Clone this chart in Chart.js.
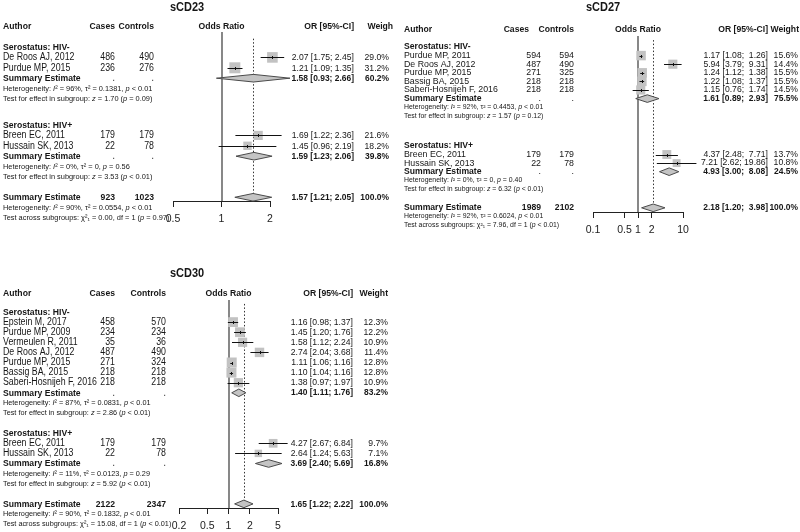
<!DOCTYPE html>
<html>
<head>
<meta charset="utf-8">
<script src="https://cdn.jsdelivr.net/npm/chart.js@4.4.1/dist/chart.umd.min.js"></script>
<style>
  html, body { margin: 0; padding: 0; background: #fff; }
  #wrap { position: relative; width: 800px; height: 532px; overflow: hidden; }
  canvas { position: absolute; }
</style>
</head>
<body>
<div id="wrap">
  <canvas id="cd23" width="393" height="266" style="left:0;top:0"></canvas>
  <canvas id="cd27" width="400" height="266" style="left:400px;top:0"></canvas>
  <canvas id="cd30" width="400" height="266" style="left:0;top:266px"></canvas>
</div>
<script>
// shared labels
const groupNames = ['Serostatus: HIV-', 'Serostatus: HIV+'];

// sCD23
const cd23Authors = ['De Roos AJ, 2012', 'Purdue MP, 2015', 'Breen EC, 2011', 'Hussain SK, 2013'];
const cd23GroupSizes = [2, 2];
const cd23Cases = [486, 236, 179, 22];
const cd23Controls = [490, 276, 179, 78];
const cd23OR = [2.07, 1.21, 1.69, 1.45];
const cd23Lower = [1.75, 1.09, 1.22, 0.96];
const cd23Upper = [2.45, 1.35, 2.36, 2.19];
const cd23Weight = [29.0, 31.2, 21.6, 18.2];
const cd23SubOR = [1.58, 1.59];
const cd23SubLower = [0.93, 1.23];
const cd23SubUpper = [2.66, 2.06];
const cd23SubWeight = [60.2, 39.8];
const cd23SubHet = ['Heterogeneity: _I_² = 96%, τ² = 0.1381, _p_ < 0.01', 'Heterogeneity: _I_² = 0%, τ² = 0, _p_ = 0.56'];
const cd23SubTest = ['Test for effect in subgroup: _z_ = 1.70 (_p_ = 0.09)', 'Test for effect in subgroup: _z_ = 3.53 (_p_ < 0.01)'];
const cd23Total = [923, 1023];
const cd23Overall = [1.57, 1.21, 2.05];
const cd23Notes = ['Heterogeneity: _I_² = 90%, τ² = 0.0554, _p_ < 0.01', 'Test across subgroups: χ²₁ = 0.00, df = 1 (_p_ = 0.97)'];
const cd23Ticks = [0.5, 1, 2];

// sCD27
const cd27Authors = ['Purdue MP, 2011', 'De Roos AJ, 2012', 'Purdue MP, 2015', 'Bassig BA, 2015', 'Saberi-Hosnijeh F, 2016', 'Breen EC, 2011', 'Hussain SK, 2013'];
const cd27GroupSizes = [5, 2];
const cd27Cases = [594, 487, 271, 218, 218, 179, 22];
const cd27Controls = [594, 490, 325, 218, 218, 179, 78];
const cd27OR = [1.17, 5.94, 1.24, 1.22, 1.15, 4.37, 7.21];
const cd27Lower = [1.08, 3.79, 1.12, 1.08, 0.76, 2.48, 2.62];
const cd27Upper = [1.26, 9.31, 1.38, 1.37, 1.74, 7.71, 19.86];
const cd27Weight = [15.6, 14.4, 15.5, 15.5, 14.5, 13.7, 10.8];
const cd27SubOR = [1.61, 4.93];
const cd27SubLower = [0.89, 3.00];
const cd27SubUpper = [2.93, 8.08];
const cd27SubWeight = [75.5, 24.5];
const cd27SubHet = ['Heterogeneity: _I_² = 92%, τ² = 0.4453, _p_ < 0.01', 'Heterogeneity: _I_² = 0%, τ² = 0, _p_ = 0.40'];
const cd27SubTest = ['Test for effect in subgroup: _z_ = 1.57 (_p_ = 0.12)', 'Test for effect in subgroup: _z_ = 6.32 (_p_ < 0.01)'];
const cd27Total = [1989, 2102];
const cd27Overall = [2.18, 1.20, 3.98];
const cd27Notes = ['Heterogeneity: _I_² = 92%, τ² = 0.6024, _p_ < 0.01', 'Test across subgroups: χ²₁ = 7.96, df = 1 (_p_ < 0.01)'];
const cd27Ticks = [0.1, 0.5, 1, 2, 10];

// sCD30
const cd30Authors = ['Epstein M, 2017', 'Purdue MP, 2009', 'Vermeulen R, 2011', 'De Roos AJ, 2012', 'Purdue MP, 2015', 'Bassig BA, 2015', 'Saberi-Hosnijeh F, 2016', 'Breen EC, 2011', 'Hussain SK, 2013'];
const cd30GroupSizes = [7, 2];
const cd30Cases = [458, 234, 35, 487, 271, 218, 218, 179, 22];
const cd30Controls = [570, 234, 36, 490, 324, 218, 218, 179, 78];
const cd30OR = [1.16, 1.45, 1.58, 2.74, 1.11, 1.10, 1.38, 4.27, 2.64];
const cd30Lower = [0.98, 1.20, 1.12, 2.04, 1.06, 1.04, 0.97, 2.67, 1.24];
const cd30Upper = [1.37, 1.76, 2.24, 3.68, 1.16, 1.16, 1.97, 6.84, 5.63];
const cd30Weight = [12.3, 12.2, 10.9, 11.4, 12.8, 12.8, 10.9, 9.7, 7.1];
const cd30SubOR = [1.40, 3.69];
const cd30SubLower = [1.11, 2.40];
const cd30SubUpper = [1.76, 5.69];
const cd30SubWeight = [83.2, 16.8];
const cd30SubHet = ['Heterogeneity: _I_² = 87%, τ² = 0.0831, _p_ < 0.01', 'Heterogeneity: _I_² = 11%, τ² = 0.0123, _p_ = 0.29'];
const cd30SubTest = ['Test for effect in subgroup: _z_ = 2.86 (_p_ < 0.01)', 'Test for effect in subgroup: _z_ = 5.92 (_p_ < 0.01)'];
const cd30Total = [2122, 2347];
const cd30Overall = [1.65, 1.22, 2.22];
const cd30Notes = ['Heterogeneity: _I_² = 90%, τ² = 0.1832, _p_ < 0.01', 'Test across subgroups: χ²₁ = 15.08, df = 1 (_p_ < 0.01)'];
const cd30Ticks = [0.2, 0.5, 1, 2, 5];

const overallWeight = 100.0;

const FAMILY = '"Liberation Sans", Arial, Helvetica, sans-serif';
const INK = '#161616';

// layout for each panel (canvas-relative pixels)
const panels = [
    {
        id: 'cd23', title: 'sCD23', titleX: 187, titleY: 8,
        authors: cd23Authors, sizes: cd23GroupSizes, cases: cd23Cases, controls: cd23Controls,
        or: cd23OR, lo: cd23Lower, hi: cd23Upper, w: cd23Weight,
        subOr: cd23SubOR, subLo: cd23SubLower, subHi: cd23SubUpper, subW: cd23SubWeight,
        subHet: cd23SubHet, subTest: cd23SubTest, total: cd23Total, overall: cd23Overall, notes: cd23Notes,
        ticks: cd23Ticks, xMin: 0.5, xMax: 2,
        plot: { left: 173, right: 270, top: 32, bottom: 201 },
        row0: 47, step: 10.4, gaps: [2.5, 1.95], headerY: 26, square: 11,
        text: { size: 10, squeeze: 0.88, small: 7.4 },
        col: { author: 3, casesHead: 115, cases: 115, controls: 154, or: 354, weight: 389, weightHead: 396 }
    },
    {
        id: 'cd27', title: 'sCD27', titleX: 203, titleY: 8,
        authors: cd27Authors, sizes: cd27GroupSizes, cases: cd27Cases, controls: cd27Controls,
        or: cd27OR, lo: cd27Lower, hi: cd27Upper, w: cd27Weight,
        subOr: cd27SubOR, subLo: cd27SubLower, subHi: cd27SubUpper, subW: cd27SubWeight,
        subHet: cd27SubHet, subTest: cd27SubTest, total: cd27Total, overall: cd27Overall, notes: cd27Notes,
        ticks: cd27Ticks, xMin: 0.1, xMax: 10,
        plot: { left: 193, right: 283, top: 36, bottom: 212 },
        row0: 47, step: 8.6, gaps: [3.5, 2.2], headerY: 30, square: 9.5,
        text: { size: 8.8, squeeze: 1, small: 6.9 },
        col: { author: 4, casesHead: 129, cases: 141, controls: 174, or: 368, weight: 398, weightHead: 399 }
    },
    {
        id: 'cd30', title: 'sCD30', titleX: 187, titleY: 8,
        authors: cd30Authors, sizes: cd30GroupSizes, cases: cd30Cases, controls: cd30Controls,
        or: cd30OR, lo: cd30Lower, hi: cd30Upper, w: cd30Weight,
        subOr: cd30SubOR, subLo: cd30SubLower, subHi: cd30SubUpper, subW: cd30SubWeight,
        subHet: cd30SubHet, subTest: cd30SubTest, total: cd30Total, overall: cd30Overall, notes: cd30Notes,
        ticks: cd30Ticks, xMin: 0.2, xMax: 5,
        plot: { left: 179, right: 278, top: 34, bottom: 242 },
        row0: 46, step: 10.1, gaps: [2, 2], headerY: 27, square: 10,
        text: { size: 10, squeeze: 0.88, small: 7.3 },
        col: { author: 3, casesHead: 115, cases: 115, controls: 166, or: 353, weight: 388, weightHead: 388 }
    }
];

// row index of every line in a panel
function layoutRows(sizes, gaps) {
    const rows = { group: [], study: [], sum: [], het: [], test: [] };
    let r = 0;
    sizes.forEach((n, g) => {
        rows.group.push(r);
        for (let i = 1; i <= n; i++) rows.study.push(r + i);
        rows.sum.push(r + n + 1);
        rows.het.push(r + n + 2);
        rows.test.push(r + n + 3);
        r += n + 3 + gaps[g];
    });
    rows.overall = r;
    rows.overallHet = r + 1;
    rows.overallTest = r + 2;
    return rows;
}

function ciText(or, lo, hi, width) {
    return or.toFixed(2) + ' [' + lo.toFixed(2) + '; ' + hi.toFixed(2).padStart(width, ' ') + ']';
}

function put(ctx, s, x, y, align, font, squeeze) {
    ctx.save();
    ctx.translate(x, y);
    ctx.scale(squeeze, 1);
    ctx.font = font;
    ctx.textAlign = align;
    ctx.fillText(s, 0, 0);
    ctx.restore();
}

// text with _italic_ parts
function richText(ctx, s, x, y, size) {
    ctx.textAlign = 'left';
    let cx = x;
    s.split('_').forEach((part, i) => {
        ctx.font = (i % 2 ? 'italic ' : '') + size + 'px ' + FAMILY;
        ctx.fillText(part, cx, y);
        cx += ctx.measureText(part).width;
    });
}

function makeForestPlugin(p, rows) {
    const hiWidth = Math.max(...p.hi.concat(p.subHi, [p.overall[2]]).map(v => v.toFixed(2).length));
    const diamonds = p.subOr.map((v, g) => [v, p.subLo[g], p.subHi[g], rows.sum[g]])
        .concat([[p.overall[0], p.overall[1], p.overall[2], rows.overall]]);

    return {
        id: 'forest',
        beforeDatasetsDraw(chart) {
            const { ctx, chartArea, scales: { x, y } } = chart;
            ctx.save();
            const x1 = Math.round(x.getPixelForValue(1));
            ctx.strokeStyle = '#6a6a6a';
            ctx.lineWidth = 1.6;
            ctx.beginPath();
            ctx.moveTo(x1, chartArea.top);
            ctx.lineTo(x1, chartArea.bottom);
            ctx.stroke();

            const xo = Math.round(x.getPixelForValue(p.overall[0])) + 0.5;
            ctx.strokeStyle = '#333';
            ctx.lineWidth = 1;
            ctx.setLineDash([1.5, 2]);
            ctx.beginPath();
            ctx.moveTo(xo, y.getPixelForValue(-0.8));
            ctx.lineTo(xo, chartArea.bottom);
            ctx.stroke();
            ctx.restore();
        },
        afterDatasetsDraw(chart) {
            const { ctx, scales: { x, y } } = chart;
            ctx.save();
            ctx.strokeStyle = '#111';
            ctx.lineWidth = 1;
            p.or.forEach((v, i) => {
                const yy = Math.round(y.getPixelForValue(rows.study[i])) + 0.5;
                ctx.beginPath();
                ctx.moveTo(x.getPixelForValue(p.lo[i]), yy);
                ctx.lineTo(x.getPixelForValue(p.hi[i]), yy);
                const xe = Math.round(x.getPixelForValue(v)) + 0.5;
                ctx.moveTo(xe, yy - 1.5);
                ctx.lineTo(xe, yy + 1.5);
                ctx.stroke();
            });
            diamonds.forEach(([est, lo, hi, r]) => {
                const yy = y.getPixelForValue(r);
                ctx.beginPath();
                ctx.moveTo(x.getPixelForValue(lo), yy);
                ctx.lineTo(x.getPixelForValue(est), yy - 3.8);
                ctx.lineTo(x.getPixelForValue(hi), yy);
                ctx.lineTo(x.getPixelForValue(est), yy + 3.8);
                ctx.closePath();
                ctx.fillStyle = '#c4c4c4';
                ctx.fill();
                ctx.strokeStyle = '#4a4a4a';
                ctx.stroke();
            });
            ctx.restore();
        },
        afterDraw(chart) {
            const { ctx, scales: { y } } = chart;
            const c = p.col;
            const t = p.text, sq = t.squeeze;
            const reg = t.size + 'px ' + FAMILY;
            const bold = 'bold ' + (t.size * 0.98) + 'px ' + FAMILY;
            const orReg = (t.size * 0.98) + 'px ' + FAMILY;
            const orBold = 'bold ' + (t.size * 0.96) + 'px ' + FAMILY;
            ctx.save();
            ctx.fillStyle = INK;
            ctx.textBaseline = 'middle';

            put(ctx, p.title, p.titleX, p.titleY, 'center', 'bold 12.5px ' + FAMILY, 0.88);

            const hy = p.headerY;
            put(ctx, 'Author', c.author, hy, 'left', bold, sq);
            put(ctx, 'Cases', c.casesHead, hy, 'right', bold, sq);
            put(ctx, 'Controls', c.controls, hy, 'right', bold, sq);
            put(ctx, 'Odds Ratio', (p.plot.left + p.plot.right) / 2, hy, 'center', bold, sq);
            put(ctx, 'OR [95%-CI]', c.or, hy, 'right', bold, sq);
            put(ctx, 'Weight', c.weightHead, hy, 'right', bold, sq);

            rows.group.forEach((r, g) => put(ctx, groupNames[g], c.author, y.getPixelForValue(r), 'left', bold, sq));

            p.authors.forEach((name, i) => {
                const yy = y.getPixelForValue(rows.study[i]);
                put(ctx, name, c.author, yy, 'left', reg, sq);
                put(ctx, String(p.cases[i]), c.cases, yy, 'right', reg, sq);
                put(ctx, String(p.controls[i]), c.controls, yy, 'right', reg, sq);
                put(ctx, ciText(p.or[i], p.lo[i], p.hi[i], hiWidth), c.or, yy, 'right', orReg, sq);
                put(ctx, p.w[i].toFixed(1) + '%', c.weight, yy, 'right', orReg, sq);
            });

            p.subOr.forEach((v, g) => {
                const yy = y.getPixelForValue(rows.sum[g]);
                put(ctx, 'Summary Estimate', c.author, yy, 'left', bold, sq);
                put(ctx, '.', c.cases, yy, 'right', reg, sq);
                put(ctx, '.', c.controls, yy, 'right', reg, sq);
                put(ctx, ciText(v, p.subLo[g], p.subHi[g], hiWidth), c.or, yy, 'right', orBold, sq);
                put(ctx, p.subW[g].toFixed(1) + '%', c.weight, yy, 'right', orBold, sq);
                richText(ctx, p.subHet[g], c.author, y.getPixelForValue(rows.het[g]), t.small);
                richText(ctx, p.subTest[g], c.author, y.getPixelForValue(rows.test[g]), t.small);
            });

            const oy = y.getPixelForValue(rows.overall);
            put(ctx, 'Summary Estimate', c.author, oy, 'left', bold, sq);
            put(ctx, String(p.total[0]), c.cases, oy, 'right', bold, sq);
            put(ctx, String(p.total[1]), c.controls, oy, 'right', bold, sq);
            put(ctx, ciText(p.overall[0], p.overall[1], p.overall[2], hiWidth), c.or, oy, 'right', orBold, sq);
            put(ctx, overallWeight.toFixed(1) + '%', c.weight, oy, 'right', orBold, sq);
            richText(ctx, p.notes[0], c.author, y.getPixelForValue(rows.overallHet), t.small);
            richText(ctx, p.notes[1], c.author, y.getPixelForValue(rows.overallTest), t.small);
            ctx.restore();
        }
    };
}

const AXIS_H = 24;

panels.forEach(p => {
    const canvas = document.getElementById(p.id);
    const rows = layoutRows(p.sizes, p.gaps);
    const yMin = (p.plot.top - p.row0) / p.step;
    const yMax = (p.plot.bottom - p.row0) / p.step;
    const wMax = Math.max(...p.w);

    new Chart(canvas, {
        type: 'scatter',
        data: {
            datasets: [{
                data: p.or.map((v, i) => ({ x: v, y: rows.study[i] })),
                pointStyle: 'rect',
                pointRadius: p.w.map(w => p.square * Math.sqrt(w / wMax) / Math.SQRT2),
                backgroundColor: '#c2c2c2',
                borderWidth: 0,
                clip: false
            }]
        },
        options: {
            responsive: false,
            animation: false,
            events: [],
            layout: {
                padding: {
                    left: p.plot.left,
                    right: canvas.width - p.plot.right,
                    top: p.plot.top,
                    bottom: canvas.height - p.plot.bottom - AXIS_H
                }
            },
            plugins: {
                legend: { display: false },
                tooltip: { enabled: false }
            },
            scales: {
                x: {
                    type: 'logarithmic',
                    min: p.xMin,
                    max: p.xMax,
                    afterBuildTicks: scale => { scale.ticks = p.ticks.map(v => ({ value: v })); },
                    afterFit: scale => { scale.height = AXIS_H; },
                    ticks: {
                        callback: v => String(v),
                        autoSkip: false,
                        maxRotation: 0,
                        padding: 6,
                        color: '#222',
                        font: { family: FAMILY, size: 10.5 }
                    },
                    grid: { drawOnChartArea: false, drawTicks: true, tickLength: 6, color: '#222' },
                    border: { display: true, color: '#222', width: 1 }
                },
                y: {
                    type: 'linear',
                    reverse: true,
                    min: yMin,
                    max: yMax,
                    display: false
                }
            }
        },
        plugins: [makeForestPlugin(p, rows)]
    });
});
</script>
</body>
</html>
